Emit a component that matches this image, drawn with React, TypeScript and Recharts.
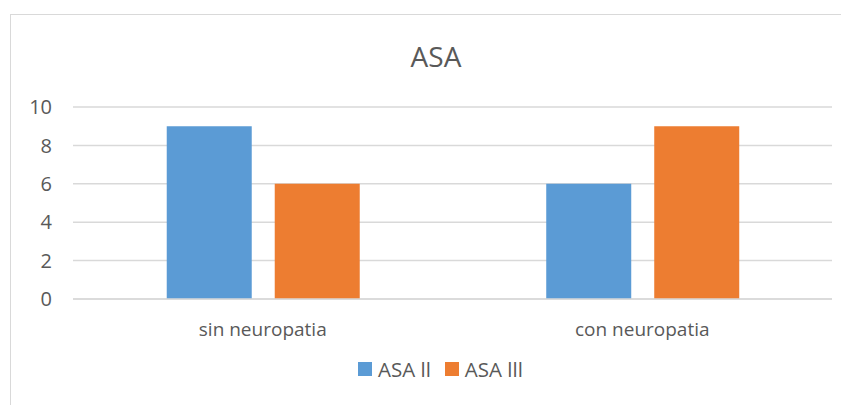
import { BarChart, Bar, XAxis, YAxis, CartesianGrid } from "recharts";

const categories = ["sin neuropatia", "con neuropatia"];
const asaII = [9, 6];
const asaIII = [6, 9];
const yTicks = [0, 2, 4, 6, 8, 10];
const seriesNames = ["ASA ll", "ASA lll"];
const seriesColors = ["#5B9BD5", "#ED7D31"];

const data = categories.map((name, i) => ({
  name,
  asaII: asaII[i],
  asaIII: asaIII[i],
}));

const FONT = "'Open Sans', sans-serif";
const TEXT = "#595959";

export default function App() {
  return (
    <div
      style={{
        position: "relative",
        width: 849,
        height: 413,
        margin: -8,
        background: "#fff",
        overflow: "hidden",
      }}
    >
      <div
        style={{
          position: "absolute",
          left: 10,
          top: 14,
          width: 860,
          height: 420,
          borderTop: "1px solid #d9d9d9",
          borderLeft: "1px solid #d9d9d9",
        }}
      />
      <div
        style={{
          position: "absolute",
          left: 0,
          top: 36,
          width: 872,
          textAlign: "center",
          fontFamily: FONT,
          fontSize: 28,
          lineHeight: "40px",
          color: TEXT,
        }}
      >
        ASA
      </div>
      <BarChart
        width={849}
        height={413}
        data={data}
        margin={{ top: 107, right: 17, bottom: 84, left: 13 }}
        barCategoryGap="24.7%"
        barGap={23}
        style={{ position: "absolute", left: 0, top: 0 }}
      >
        <CartesianGrid vertical={false} stroke="#d9d9d9" strokeWidth={1.5} />
        <XAxis
          dataKey="name"
          height={30}
          axisLine={{ stroke: "#d9d9d9", strokeWidth: 1.5 }}
          tickLine={false}
          tickSize={0}
          tickMargin={24}
          tick={{ fill: TEXT, fontSize: 19, fontFamily: FONT }}
        />
        <YAxis
          width={60}
          domain={[0, 10]}
          ticks={yTicks}
          axisLine={false}
          tickLine={false}
          tickSize={0}
          tickMargin={21}
          tick={{ fill: TEXT, fontSize: 20, fontFamily: FONT }}
        />
        <Bar dataKey="asaII" fill={seriesColors[0]} isAnimationActive={false} />
        <Bar dataKey="asaIII" fill={seriesColors[1]} isAnimationActive={false} />
      </BarChart>
      <div
        style={{
          position: "absolute",
          left: 358,
          top: 356,
          display: "flex",
          gap: 14,
          fontFamily: FONT,
          fontSize: 20.5,
          lineHeight: "26px",
          color: TEXT,
        }}
      >
        {seriesNames.map((label, i) => (
          <span key={label} style={{ display: "flex", alignItems: "center" }}>
            <span
              style={{
                width: 14,
                height: 14,
                background: seriesColors[i],
                display: "inline-block",
                marginRight: 6,
              }}
            />
            {label}
          </span>
        ))}
      </div>
    </div>
  );
}
